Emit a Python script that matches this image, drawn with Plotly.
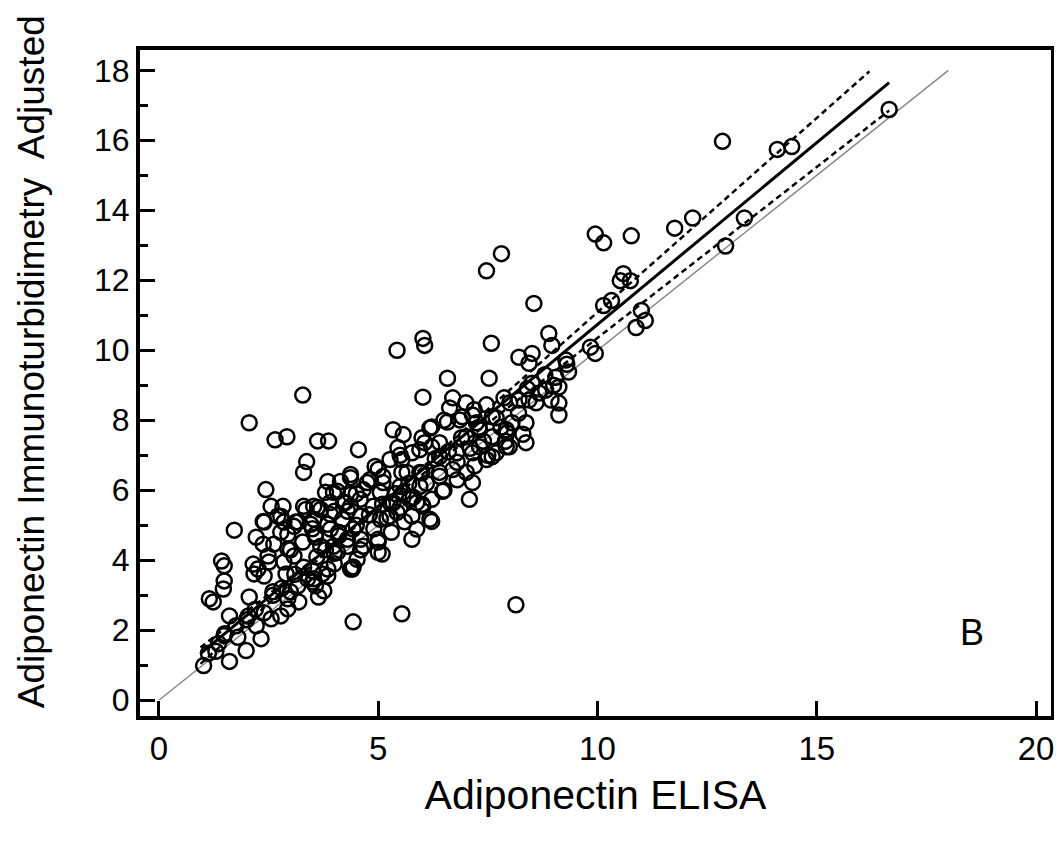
import plotly.graph_objects as go

# ELISA (x) vs immunoturbidimetry adjusted (y)
elisa = [
    12.85, 14.1, 14.43, 16.65, 11.76, 12.17, 13.35, 12.92, 10.77, 9.95, 10.14,
    10.59, 10.52, 10.75, 10.14, 10.32, 11.0, 10.88, 11.09, 7.81, 7.47, 8.55,
    8.89, 8.96, 8.21, 8.44, 8.51, 9.95, 9.84, 9.28, 9.34, 9.05, 9.12, 8.82,
    8.51, 8.94, 9.12, 9.12, 8.67, 8.44, 8.21, 8.37, 8.37, 7.69, 7.94, 7.6,
    7.19, 7.24, 6.92, 6.22, 6.58, 6.06, 6.4, 7.01, 7.31, 7.6, 6.79, 6.4, 7.99,
    7.58, 6.02, 6.06, 5.43, 6.58, 7.53, 6.02, 6.7, 6.63, 5.34, 5.57, 6.18,
    6.86, 7.15, 7.47, 7.87, 7.31, 7.92, 8.05, 7.15, 7.47, 7.69, 7.92, 7.01,
    7.15, 7.08, 6.47, 6.22, 6.02, 5.72, 6.18, 5.77, 5.43, 6.4, 6.7, 5.66,
    5.95, 5.5, 5.05, 4.66, 4.89, 5.27, 4.59, 4.3, 5.05, 4.43, 5.45, 5.27,
    5.54, 5.77, 5.95, 6.22, 4.37, 4.82, 5.11, 4.93, 4.55, 4.75, 5.11, 4.37,
    4.14, 3.85, 3.8, 4.07, 4.37, 4.59, 4.25, 3.91, 3.35, 3.62, 3.91, 2.44,
    2.56, 2.83, 2.38, 2.71, 3.08, 2.22, 2.62, 2.94, 3.28, 3.57, 3.91, 4.19,
    3.69, 3.98, 3.08, 2.85, 2.51, 4.37, 4.52, 5.0, 5.09, 5.27, 5.34, 5.88,
    5.57, 5.95, 5.54, 5.77, 5.88, 3.85, 3.53, 2.26, 2.4, 3.28, 2.06, 2.65,
    2.92, 3.62, 3.87, 3.37, 3.3, 1.72, 3.98, 4.21, 2.78, 2.85, 3.3, 3.53,
    3.69, 3.17, 3.53, 4.37, 1.43, 1.49, 1.49, 1.47, 1.15, 1.24, 1.61, 2.06,
    2.15, 2.17, 2.38, 2.4, 2.78, 2.49, 3.12, 2.94, 3.57, 3.85, 3.46, 4.1,
    4.41, 4.43, 3.64, 3.57, 3.19, 2.94, 2.78, 2.33, 1.99, 1.61, 1.02, 1.13,
    1.36, 1.49, 1.76, 2.04, 2.22, 2.56, 3.17, 3.39, 3.85, 3.76, 4.07, 4.3,
    4.43, 5.54, 8.14, 2.94, 3.51, 3.73, 4.66, 5.0, 6.22, 2.9, 2.6,
    1.3, 1.5, 1.8, 2.0, 2.2, 2.4, 2.6, 2.8, 3.0, 3.1, 3.3, 3.5, 3.6, 3.8,
    4.0, 4.1, 4.3, 4.5, 4.6, 4.8, 4.9, 5.1, 5.2, 5.4, 5.5, 5.7, 5.8, 6.0,
    6.1, 6.3, 6.4, 6.6, 6.8, 6.9, 7.1, 7.3, 7.4, 7.6, 7.8, 8.0, 8.2, 8.4,
    8.6, 8.8, 9.0, 9.3,
    4.0, 4.6, 5.0, 5.3, 5.6, 6.0, 6.5, 6.8, 7.2, 7.5, 7.9, 8.3,
    3.0, 3.5, 4.0, 4.5, 5.0, 5.5, 6.0, 6.5, 7.0,
]
turbid = [
    15.97, 15.74, 15.82, 16.88, 13.49, 13.78, 13.78, 12.98, 13.27, 13.32, 13.07,
    12.19, 11.99, 11.99, 11.28, 11.42, 11.14, 10.65, 10.85, 12.76, 12.27, 11.34,
    10.48, 10.14, 9.8, 9.63, 9.91, 9.91, 10.09, 9.72, 9.38, 9.23, 8.95, 8.86,
    9.06, 8.58, 8.49, 8.15, 8.78, 8.58, 8.58, 7.93, 7.36, 8.07, 7.64, 7.53,
    8.3, 7.93, 8.1, 7.81, 7.95, 7.36, 7.36, 7.53, 7.24, 6.96, 7.07, 6.96, 7.24,
    10.2, 10.34, 10.14, 10.0, 9.2, 9.2, 8.66, 8.64, 8.35, 7.73, 7.59, 7.78,
    8.01, 8.15, 8.44, 8.64, 7.73, 7.73, 7.93, 7.07, 6.88, 7.07, 7.24, 6.51,
    6.22, 5.74, 5.97, 5.74, 5.54, 5.74, 5.17, 5.26, 5.37, 6.51, 6.59, 6.51,
    6.51, 6.11, 5.94, 6.02, 5.54, 5.65, 5.26, 5.4, 5.17, 4.89, 7.22, 6.88,
    6.88, 7.07, 7.16, 7.24, 6.45, 6.31, 6.39, 6.68, 7.16, 6.22, 6.22, 6.36,
    6.25, 6.25, 5.94, 5.97, 5.88, 5.74, 5.65, 5.65, 5.45, 5.51, 5.31, 6.02,
    5.54, 5.54, 5.11, 5.26, 4.97, 4.66, 4.46, 4.74, 4.52, 4.74, 4.89, 5.17,
    4.4, 4.4, 4.12, 3.95, 3.95, 3.75, 4.03, 4.23, 4.18, 5.26, 5.65, 5.65,
    5.94, 6.11, 6.51, 4.6, 4.89, 3.75, 3.47, 3.75, 3.55, 8.72, 7.93, 7.44,
    7.53, 7.41, 7.41, 6.82, 6.51, 4.86, 5.94, 5.65, 5.26, 5.09, 5.54, 5.54,
    5.45, 5.09, 5.17, 5.54, 3.98, 3.84, 3.41, 3.18, 2.9, 2.81, 2.41, 2.95,
    3.89, 3.61, 4.46, 5.09, 4.8, 4.12, 5.09, 4.32, 4.66, 5.03, 5.03, 4.8,
    3.75, 2.24, 2.95, 3.27, 2.81, 2.9, 2.41, 1.76, 1.42, 1.11, 0.99, 1.34,
    1.62, 1.85, 2.13, 2.41, 2.13, 2.33, 3.27, 3.47, 3.55, 3.13, 4.23, 4.4,
    3.81, 2.47, 2.73, 2.61, 3.38, 3.61, 4.4, 4.52, 5.11, 3.61, 3.1,
    1.4, 1.9, 1.8, 2.3, 2.6, 2.5, 3.0, 3.2, 3.1, 3.6, 3.8, 3.7, 4.1, 4.3,
    4.2, 4.7, 4.6, 5.0, 4.6, 5.3, 4.9, 5.6, 5.2, 5.9, 5.5, 6.2, 5.8, 6.5,
    6.2, 6.9, 6.4, 7.1, 6.8, 7.5, 7.2, 7.8, 7.4, 8.1, 7.8, 8.5, 8.2, 8.9,
    8.5, 9.3, 9.0, 9.6,
    3.9, 4.3, 4.6, 4.8, 5.1, 5.6, 6.0, 6.3, 6.7, 7.0, 7.4, 7.6,
    4.3, 4.9, 5.4, 5.9, 6.6, 7.0, 7.5, 8.0, 8.5,
]

# line of identity, regression fit and its dashed limits (end points)
ident_x = [0, 18]
ident_y = [0, 18]
fit_x = [0.95, 16.65]
fit_y = [1.33, 17.65]
upper_x = [0.95, 16.2]
upper_y = [1.04, 17.97]
lower_x = [0.95, 16.65]
lower_y = [1.51, 16.85]

FONT = "Liberation Sans, Arial, sans-serif"

fig = go.Figure()
fig.add_trace(go.Scatter(x=ident_x, y=ident_y, mode="lines",
                         line=dict(color="#8a8a8a", width=1.5)))
fig.add_trace(go.Scatter(x=elisa, y=turbid, mode="markers",
                         marker=dict(symbol="circle-open", size=15,
                                     color="black", line=dict(width=2.5))))
fig.add_trace(go.Scatter(x=fit_x, y=fit_y, mode="lines",
                         line=dict(color="black", width=3)))
fig.add_trace(go.Scatter(x=upper_x, y=upper_y, mode="lines",
                         line=dict(color="black", width=2.5, dash="6px,4px")))
fig.add_trace(go.Scatter(x=lower_x, y=lower_y, mode="lines",
                         line=dict(color="black", width=2.5, dash="6px,4px")))

fig.add_annotation(x=18.55, y=1.95, text="B", showarrow=False,
                   font=dict(family=FONT, size=36, color="black"))

# y title as a rotated annotation (sits a bit above the axis middle)
fig.add_annotation(xref="paper", yref="paper", x=-0.119, y=0.532,
                   text="Adiponectin Immunoturbidimetry\u00a0 Adjusted",
                   textangle=-90, showarrow=False, xanchor="center", yanchor="middle",
                   font=dict(family=FONT, size=37, color="black"))

# page body adds ~8px offset, so figure is a bit smaller than the window
fig.update_layout(
    width=1054, height=831,
    margin=dict(l=132, r=11, t=42, b=123, autoexpand=False),
    paper_bgcolor="white", plot_bgcolor="white",
    showlegend=False,
    font=dict(family=FONT, color="black"),
)
fig.update_xaxes(
    range=[-0.43, 20.34], tickvals=[0, 5, 10, 15, 20],
    ticks="inside", ticklen=15, tickwidth=3, tickcolor="black",
    showline=True, linewidth=4, linecolor="black", mirror=True,
    showgrid=False, zeroline=False,
    tickfont=dict(family=FONT, size=33),
    title=dict(text="Adiponectin ELISA", font=dict(family=FONT, size=41), standoff=16),
)
fig.update_yaxes(
    range=[-0.45, 18.58], tickvals=list(range(0, 19, 2)),
    ticks="inside", ticklen=15, tickwidth=3, tickcolor="black",
    minor=dict(ticks="inside", ticklen=8, tickwidth=3, tickcolor="black", dtick=1),
    showline=True, linewidth=4, linecolor="black", mirror=True,
    showgrid=False, zeroline=False,
    tickfont=dict(family=FONT, size=32),
)

fig.write_html("out.html")
